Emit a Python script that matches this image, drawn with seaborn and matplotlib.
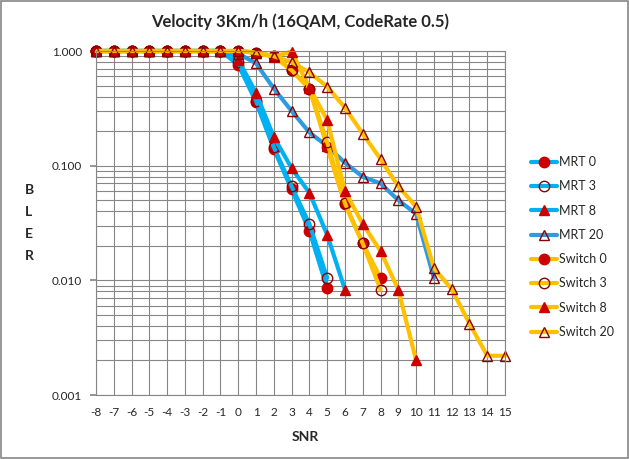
"""
BLER vs SNR, velocity 3Km/h (16QAM, CodeRate 0.5)
"""
import numpy as np
import pandas as pd
import matplotlib
matplotlib.use('Agg')
import matplotlib.pyplot as plt
import matplotlib.ticker as mticker
from matplotlib.patches import Rectangle
import seaborn as sns

nan = np.nan

# SNR categories
snr = list(range(-8, 16))

# BLER per series, one value per SNR
mrt_0 = [1.0] * 8 + [0.76, 0.36, 0.14, 0.062, 0.027, 0.0085] + [nan] * 10
mrt_3 = [1.0] * 8 + [0.80, 0.37, 0.145, 0.066, 0.031, 0.0105] + [nan] * 10
mrt_8 = [1.0] * 8 + [0.84, 0.43, 0.178, 0.095, 0.058, 0.025, 0.0083] + [nan] * 9
mrt_20 = [1.0] * 8 + [0.95, 0.78, 0.47, 0.30, 0.195, 0.148, 0.106, 0.08,
                      0.07, 0.05, 0.038, 0.0105] + [nan] * 4
switch_0 = [1.0] * 8 + [1.0, 0.97, 0.90, 0.68, 0.47, 0.145, 0.046, 0.021,
                        0.0105] + [nan] * 7
switch_3 = [1.0] * 8 + [1.0, 0.97, 0.90, 0.68, 0.47, 0.16, 0.047, 0.021,
                        0.0083] + [nan] * 7
switch_8 = [1.0] * 8 + [1.0, 0.97, 0.89, 0.99, 0.48, 0.25, 0.06, 0.031,
                        0.018, 0.0083, 0.002] + [nan] * 5
switch_20 = [1.0] * 8 + [1.0, 0.96, 0.90, 0.80, 0.65, 0.49, 0.32, 0.19,
                         0.114, 0.066, 0.044, 0.0128, 0.0084, 0.0042,
                         0.0022, 0.0022]

series_names = ['MRT 0', 'MRT 3', 'MRT 8', 'MRT 20',
                'Switch 0', 'Switch 3', 'Switch 8', 'Switch 20']
series_values = [mrt_0, mrt_3, mrt_8, mrt_20,
                 switch_0, switch_3, switch_8, switch_20]

# line colour, marker, marker face
CYAN = '#00B0F0'
BLUE = '#2E9BE0'
GOLD = '#FFC000'
RED = '#CC0000'
DARK = '#8B0000'
styles = {
    'MRT 0': (CYAN, 'o', RED),
    'MRT 3': (CYAN, 'o', 'none'),
    'MRT 8': (CYAN, '^', RED),
    'MRT 20': (BLUE, '^', 'none'),
    'Switch 0': (GOLD, 'o', RED),
    'Switch 3': (GOLD, 'o', 'none'),
    'Switch 8': (GOLD, '^', RED),
    'Switch 20': (GOLD, '^', 'none'),
}

sns.set_theme(style='white')
plt.rcParams['font.family'] = ['Lato', 'DejaVu Sans']

fig = plt.figure(figsize=(6.29, 4.59), dpi=100)
ax = fig.add_axes([96 / 629, 1 - 395 / 459, 409 / 629, 344 / 459])

for name, values in zip(series_names, series_values):
    color, marker, face = styles[name]
    df = pd.DataFrame({'SNR': snr, 'BLER': values}).dropna()
    edge = RED if face == RED else DARK
    sns.lineplot(data=df, x='SNR', y='BLER', ax=ax, color=color,
                 linewidth=3, marker=marker, markersize=7.5,
                 markerfacecolor=face, markeredgecolor=edge,
                 markeredgewidth=1.0, label=name, clip_on=False)

ax.set_yscale('log')
ax.set_ylim(0.001, 1.0)
ax.set_xlim(-8, 15)
ax.set_xticks(snr)
ax.set_xticklabels([str(s) for s in snr], fontsize=8.5)
ax.yaxis.set_major_locator(mticker.FixedLocator([0.001, 0.01, 0.1, 1.0]))
ax.yaxis.set_major_formatter(mticker.FuncFormatter(lambda v, p: f'{v:.3f}'))
ax.yaxis.set_minor_locator(mticker.LogLocator(base=10, subs=np.arange(2, 10)))
ax.yaxis.set_minor_formatter(mticker.NullFormatter())
ax.tick_params(axis='y', which='major', labelsize=8.5, length=4, color='#868686',
               left=True, pad=6)
ax.tick_params(axis='y', which='minor', length=0)
ax.tick_params(axis='x', length=0, pad=9)

ax.grid(True, which='major', axis='both', color='#868686', linewidth=0.8)
ax.grid(True, which='minor', axis='y', color='#868686', linewidth=0.8)
ax.set_axisbelow(True)
for spine in ax.spines.values():
    spine.set_color('#868686')
    spine.set_linewidth(0.8)

ax.set_xlabel('')
ax.set_ylabel('')

fig.text(300 / 629, 1 - 22 / 459, 'Velocity 3Km/h (16QAM, CodeRate 0.5)',
         ha='center', va='center', fontsize=12, fontweight='bold')
fig.text(305 / 629, 1 - 437 / 459, 'SNR', ha='center', va='center',
         fontsize=10, fontweight='bold')
fig.text(29 / 629, 1 - 223 / 459, 'B\nL\nE\nR', ha='center', va='center',
         fontsize=10, fontweight='bold', linespacing=2.0)

ax.legend(loc='center left', bbox_to_anchor=(531 / 629, 1 - 247 / 459),
          bbox_transform=fig.transFigure, frameon=False, fontsize=9,
          handlelength=2.1, handletextpad=0.15, labelspacing=0.98,
          borderpad=0, borderaxespad=0)

# chart area border
fig.patches.append(Rectangle((0.002, 0.002), 0.996, 0.996, transform=fig.transFigure,
                             fill=False, edgecolor='#868686', linewidth=1.2))

fig.savefig('out.png', dpi=100)
plt.close(fig)
